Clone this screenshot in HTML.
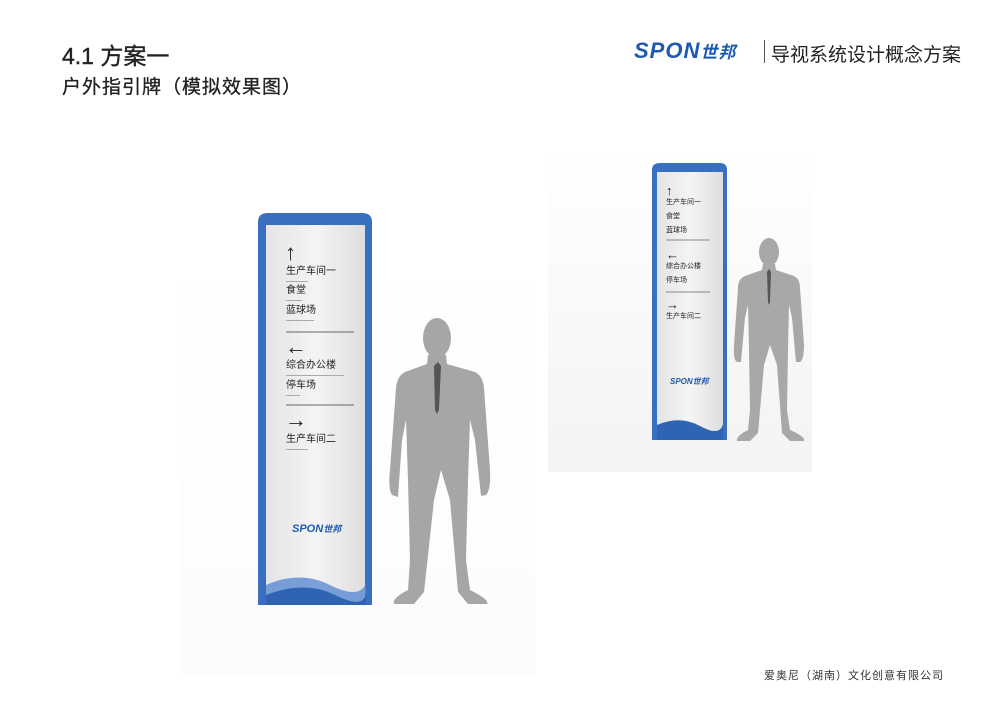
<!DOCTYPE html>
<html><head><meta charset="utf-8"><style>
body{margin:0;width:1000px;height:707px;background:#fff;position:relative;overflow:hidden;font-family:"Liberation Sans","Noto Sans CJK SC",sans-serif}
.t{position:absolute;color:#222;white-space:nowrap}
.s{position:absolute;height:1px;background:#aaa}
</style></head><body>
<div class="t" style="left:62px;top:37px;font-size:23px;color:#222;-webkit-text-stroke:0.4px #222">4.1 方案一</div>
<div class="t" style="left:62px;top:72px;font-size:19px;letter-spacing:1px;color:#222;-webkit-text-stroke:0.3px #222">户外指引牌（模拟效果图）</div>
<div class="t" style="left:634px;top:38px;font-size:22px;font-weight:bold;font-style:italic;color:#1e5bb0;letter-spacing:1px">SPON<span style="font-size:17px">世邦</span></div>
<div style="position:absolute;left:764px;top:40px;width:1px;height:23px;background:#555"></div>
<div class="t" style="left:771px;top:40px;font-size:19px;color:#222">导视系统设计概念方案</div>
<div class="t" style="left:764px;top:667px;font-size:11px;color:#333;letter-spacing:1px">爱奥尼（湖南）文化创意有限公司</div>

<div style="position:absolute;left:180px;top:250px;width:355px;height:425px;background:linear-gradient(#fff,#fcfcfc)"></div>
<div style="position:absolute;left:548px;top:150px;width:264px;height:322px;background:linear-gradient(#fff,#f3f3f3)"></div>

<svg width="1000" height="707" style="position:absolute;left:0;top:0">
<defs><linearGradient id="p" x1="0" x2="1"><stop offset="0" stop-color="#e4e4e4"/><stop offset="0.5" stop-color="#f4f4f4"/><stop offset="1" stop-color="#dedede"/></linearGradient></defs>
<path d="M258 222 Q258 213 268 213 L362 213 Q372 213 372 222 L372 605 L258 605 Z" fill="#3a6fc0"/>
<rect x="266" y="225" width="99" height="378" fill="url(#p)"/>
<path d="M266 585 Q300 570 330 585 T366 583 L366 605 L266 605Z" fill="#5a8bd2" opacity="0.8"/>
<path d="M266 595 Q305 580 335 595 T366 592 L366 605 L266 605Z" fill="#2f63b3"/>
<line x1="286" y1="332" x2="354" y2="332" stroke="#666" stroke-width="1"/>
<line x1="286" y1="405" x2="354" y2="405" stroke="#666" stroke-width="1"/>
<path d="M652 170 Q652 163 660 163 L720 163 Q727 163 727 170 L727 440 L652 440 Z" fill="#3a6fc0"/>
<rect x="657" y="172" width="66" height="266" fill="url(#p)"/>
<path d="M657 425 Q680 415 700 426 T723 424 L723 440 L657 440Z" fill="#2f63b3"/>
<line x1="666" y1="240" x2="710" y2="240" stroke="#666" stroke-width="0.8"/>
<line x1="666" y1="292" x2="710" y2="292" stroke="#666" stroke-width="0.8"/>
<g fill="#a6a6a6">
<ellipse cx="437" cy="338" rx="14" ry="20"/>
<path d="M428 355 L446 355 L447 364 L475 372 Q483 376 484 388 L490 470 Q491 490 486 495 L481 496 L475 440 L470 420 L468 480 L466 560 L470 590 Q490 600 487 604 L468 604 L458 592 L450 500 L441 470 L434 500 L424 592 L414 604 L394 604 Q392 598 408 590 L410 560 L408 480 L406 420 L402 440 L398 497 L392 495 Q388 490 390 470 L396 388 Q397 376 405 372 L427 364 Z"/>
</g>
<path d="M434 366 L438 362 L441 366 L439 410 L437 414 L435 410Z" fill="#555"/>
<g fill="#a8a8a8">
<ellipse cx="769" cy="252" rx="10" ry="14"/>
<path d="M763 264 L775 264 L776 270 L794 276 Q800 279 800 288 L804 345 Q804 360 800 362 L796 362 L792 318 L789 305 L788 350 L787 410 L790 430 Q806 437 804 441 L790 441 L782 433 L777 365 L770 345 L764 365 L758 433 L750 441 L737 441 Q736 436 748 430 L750 410 L749 350 L748 305 L745 318 L741 362 L737 362 Q733 360 734 345 L738 288 Q738 279 745 276 L762 270 Z"/>
</g>
<path d="M767 272 L769 269 L771 272 L770 302 L769 305 L768 302Z" fill="#555"/>
</svg>

<div class="t" style="left:285px;top:242px;font-size:22px;line-height:22px">↑</div>
<div class="t" style="left:286px;top:266px;font-size:10px;line-height:12px">生产车间一</div><div class="s" style="left:286px;top:281px;width:22px"></div>
<div class="t" style="left:286px;top:285px;font-size:10px;line-height:12px">食堂</div><div class="s" style="left:286px;top:300px;width:16px"></div>
<div class="t" style="left:286px;top:305px;font-size:10px;line-height:12px">蓝球场</div><div class="s" style="left:286px;top:320px;width:28px"></div>
<div class="t" style="left:285px;top:336px;font-size:22px;line-height:22px">←</div>
<div class="t" style="left:286px;top:360px;font-size:10px;line-height:12px">综合办公楼</div><div class="s" style="left:286px;top:375px;width:58px"></div>
<div class="t" style="left:286px;top:380px;font-size:10px;line-height:12px">停车场</div><div class="s" style="left:286px;top:395px;width:14px"></div>
<div class="t" style="left:285px;top:409px;font-size:22px;line-height:22px">→</div>
<div class="t" style="left:286px;top:434px;font-size:10px;line-height:12px">生产车间二</div><div class="s" style="left:286px;top:449px;width:22px"></div>
<div class="t" style="left:292px;top:522px;font-size:11px;font-weight:bold;font-style:italic;color:#1e5bb0">SPON<span style="font-size:9px">世邦</span></div>
<div class="t" style="left:666px;top:184px;font-size:13px;line-height:13px">↑</div>
<div class="t" style="left:666px;top:199px;font-size:7px;line-height:8px">生产车间一</div>
<div class="t" style="left:666px;top:213px;font-size:7px;line-height:8px">食堂</div>
<div class="t" style="left:666px;top:227px;font-size:7px;line-height:8px">蓝球场</div>
<div class="t" style="left:666px;top:248px;font-size:13px;line-height:13px">←</div>
<div class="t" style="left:666px;top:263px;font-size:7px;line-height:8px">综合办公楼</div>
<div class="t" style="left:666px;top:277px;font-size:7px;line-height:8px">停车场</div>
<div class="t" style="left:666px;top:298px;font-size:13px;line-height:13px">→</div>
<div class="t" style="left:666px;top:313px;font-size:7px;line-height:8px">生产车间二</div>
<div class="t" style="left:670px;top:376px;font-size:8px;font-weight:bold;font-style:italic;color:#1e5bb0">SPON世邦</div>
</body></html>
